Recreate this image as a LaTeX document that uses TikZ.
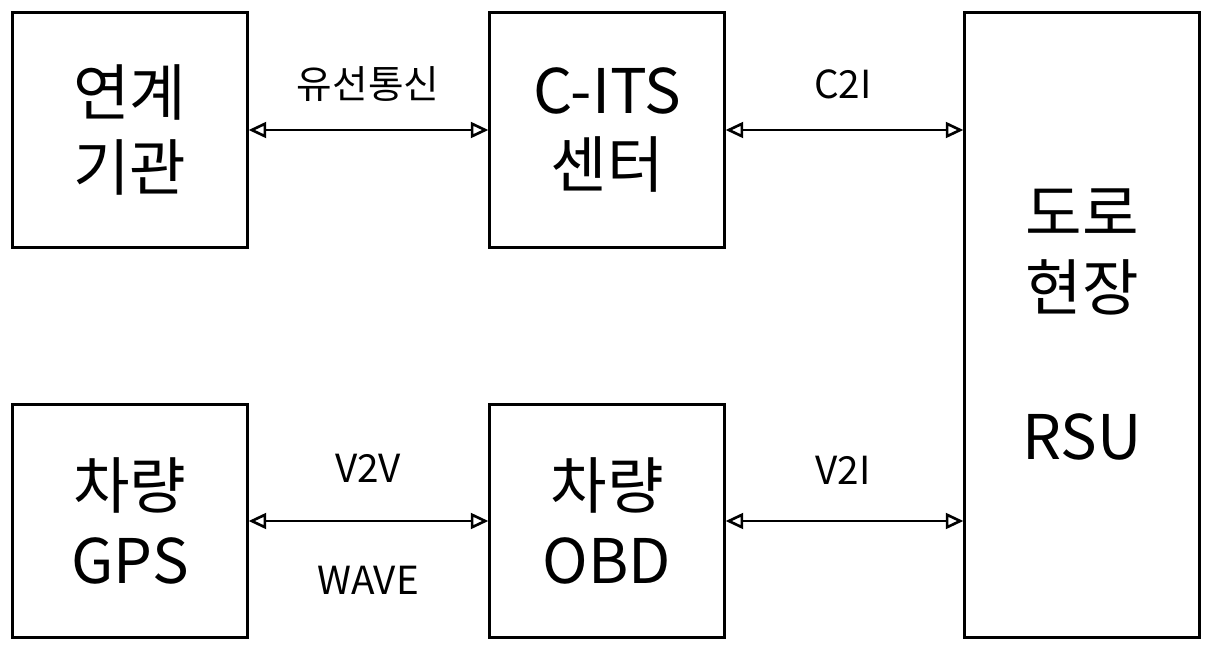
\documentclass[tikz,border=0pt]{standalone}
\usepackage{fontspec}
\setmainfont{Noto Sans CJK KR}
\usetikzlibrary{arrows.meta}
\begin{document}
\begin{tikzpicture}
[x=0.02cm,y=-0.02cm,
 box/.style={draw=black, line width=1.3pt, fill=white, align=center, inner sep=0pt,
   minimum width=4.7cm, font=\fontsize{35}{42.5}\selectfont},
 link/.style={line width=1.5pt, {Triangle[open,length=10pt,width=9pt]}-{Triangle[open,length=10pt,width=9pt]}},
 tag/.style={font=\fontsize{22}{26}\selectfont}]
\useasboundingbox (0,0) rectangle (1211,649);
% upper row
\node[box, minimum height=4.7cm] (agency) at (130,130) {연계\\기관};
\node[box, minimum height=4.7cm] (center) at (607,130) {C-ITS\\센터};
% road side
\node[box, minimum height=12.5cm] (rsu) at (1082,325) {도로\\현장\\[42.5pt]RSU};
% lower row
\node[box, minimum height=4.66cm] (gps) at (130,521) {차량\\GPS};
\node[box, minimum height=4.66cm] (obd) at (607,521) {차량\\OBD};
\draw[link] (agency.east) -- (center.west);
\draw[link] (center.east) -- (rsu.west |- center.east);
\draw[link] (gps.east) -- (obd.west);
\draw[link] (obd.east) -- (rsu.west |- obd.east);
\node[tag] (wired) at (368,84) {유선통신};
\node[tag] (c2i) at (843,84) {C2I};
\node[tag] (v2v) at (368,468) {V2V};
\node[tag] (wave) at (368,580) {WAVE};
\node[tag] (v2i) at (843,470) {V2I};
\end{tikzpicture}
\end{document}
